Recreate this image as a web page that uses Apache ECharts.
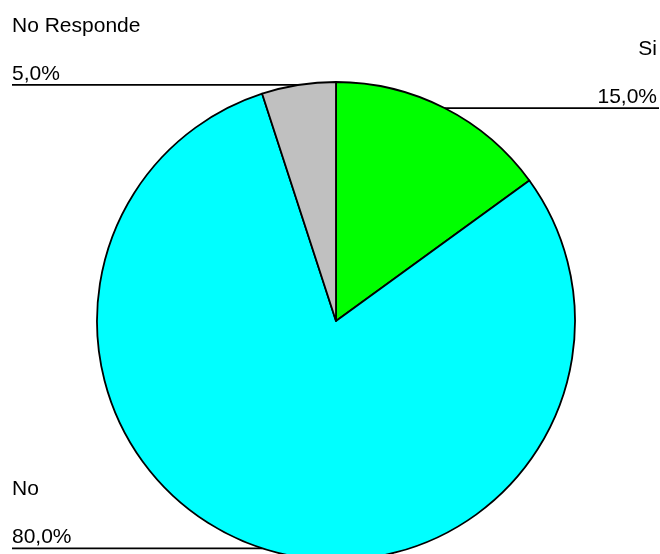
<!DOCTYPE html>
<html>
<head>
<meta charset="utf-8">
<script src="https://cdn.jsdelivr.net/npm/echarts@6/dist/echarts.min.js"></script>
<style>
html,body{margin:0;padding:0;background:#fff;}
#chart{width:660px;height:554px;}
</style>
</head>
<body>
<div id="chart"></div>
<script>
var categories = ['Si', 'No', 'No Responde'];
var values = [15, 80, 5];
var colors = ['#00FF00', '#00FFFF', '#C0C0C0'];

var chart = echarts.init(document.getElementById('chart'), null, {renderer: 'canvas'});
var data = categories.map(function (c, i) {
  return {name: c, value: values[i], itemStyle: {color: colors[i]}};
});
var FONT = 'Liberation Sans, Arial, sans-serif';
chart.setOption({
  animation: false,
  backgroundColor: '#ffffff',
  series: [{
    type: 'pie',
    center: [336, 321],
    radius: [0, 239],
    startAngle: 90,
    clockwise: true,
    data: data,
    itemStyle: {borderColor: '#000000', borderWidth: 1.8},
    emphasis: {disabled: true},
    label: {
      show: true,
      color: '#000000',
      fontFamily: FONT,
      fontSize: 21,
      formatter: function (p) {
        return '{n|' + p.name + '}\n{p|' + p.percent.toFixed(1).replace('.', ',') + '%}';
      },
      rich: {
        n: {fontSize: 21, lineHeight: 72, color: '#000', fontFamily: FONT},
        p: {fontSize: 21, lineHeight: 24, color: '#000', fontFamily: FONT}
      }
    },
    labelLine: {show: true, length: 10, length2: 10, lineStyle: {color: '#000', width: 1.8}},
    labelLayout: function (params) {
      var pts = params.labelLinePoints;
      if (!pts) return {};
      var p0 = pts[0];
      var right = p0[0] > 336;
      var endX = right ? 659 : 12;
      return {
        x: right ? 657 : 12,
        y: p0[1] + 1,
        align: right ? 'right' : 'left',
        verticalAlign: 'bottom',
        labelLinePoints: [[p0[0], p0[1]], [p0[0], p0[1]], [endX, p0[1]]]
      };
    }
  }]
});
</script>
</body>
</html>
